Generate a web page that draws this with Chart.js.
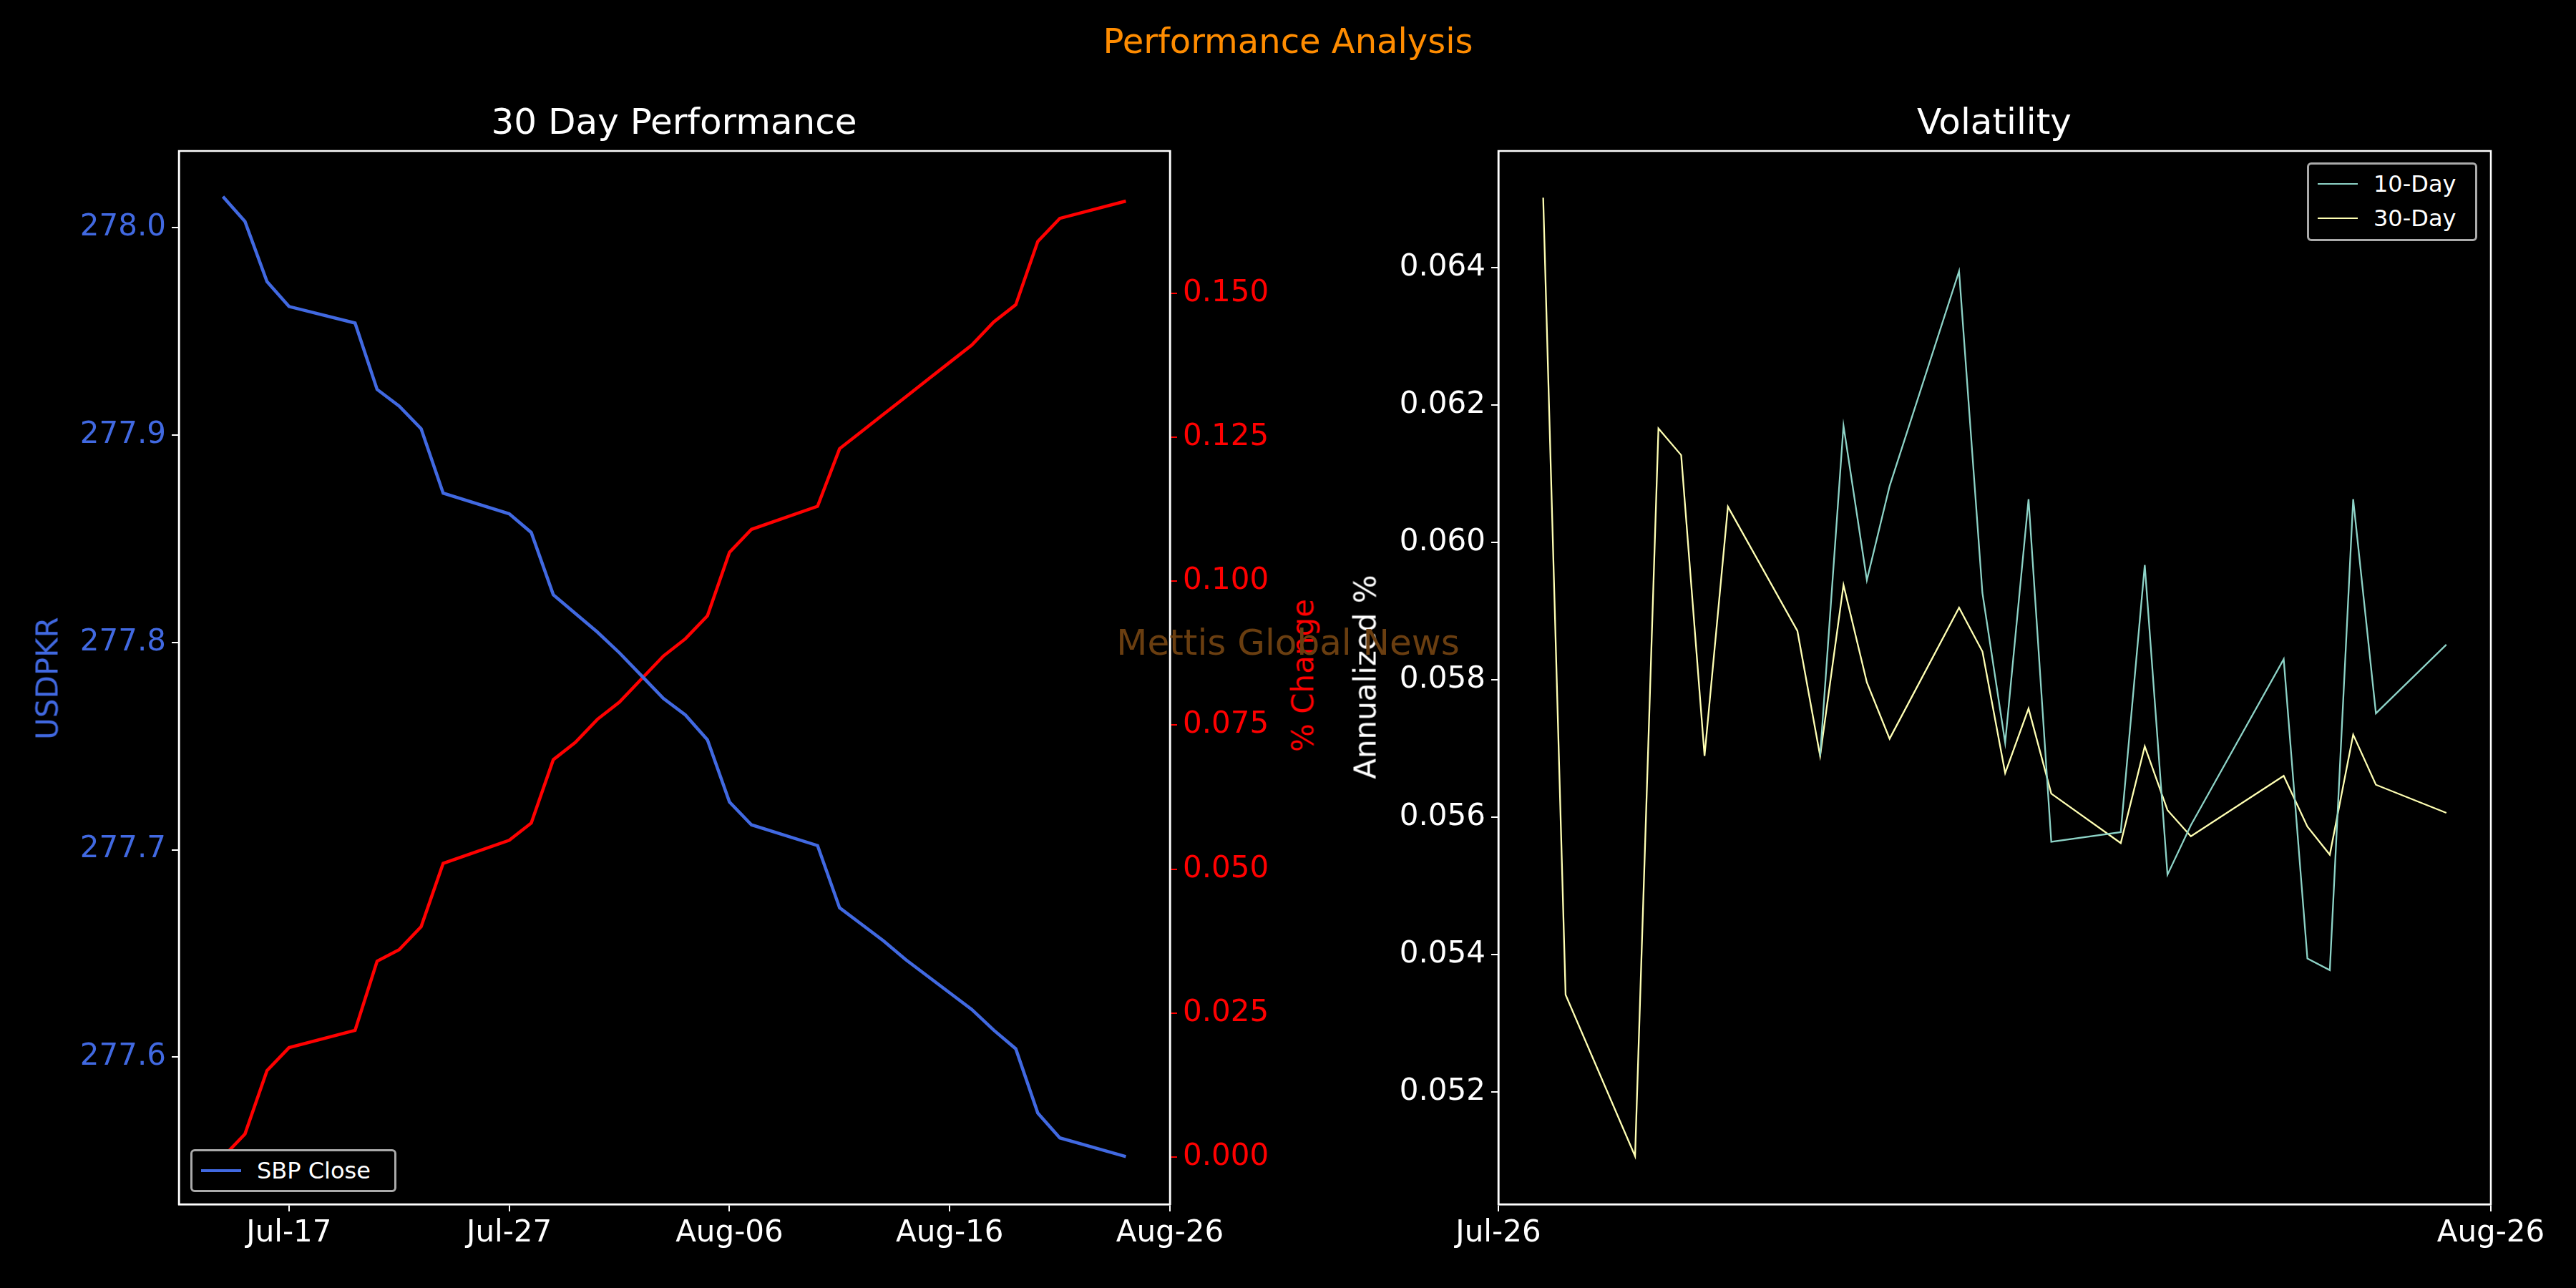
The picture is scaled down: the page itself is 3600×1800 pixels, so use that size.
<!DOCTYPE html>
<html>
<head>
<meta charset="utf-8">
<script src="https://cdn.jsdelivr.net/npm/chart.js@4.4.0/dist/chart.umd.min.js"></script>
<style>
  body { margin: 0; background: #000; width: 3600px; height: 1800px; overflow: hidden; font-family: "DejaVu Sans", sans-serif; }
  canvas { position: absolute; top: 0; }
  .txt { position: absolute; transform: translate(-50%, -50%); white-space: nowrap; }
  .rot { position: absolute; transform: translate(-50%, -50%) rotate(-90deg); white-space: nowrap; font-size: 42px; }
  .legend { position: absolute; border: 3px solid #aaa; border-radius: 6px; background: #000; color: #fff; font-size: 32px; padding: 3px 12px; box-sizing: border-box; }
  .legend div { display: flex; align-items: center; height: 48px; }
  .legend span.sw { display: inline-block; width: 56px; margin-right: 22px; }
</style>
</head>
<body>
<canvas id="perfChart" style="left:0" width="1800" height="1800"></canvas>
<canvas id="volChart" style="left:1800px" width="1800" height="1800"></canvas>

<div class="txt" style="left:1800px;top:57px;color:#ff8c00;font-size:48px">Performance Analysis</div>
<div class="txt" style="left:942px;top:170px;color:#fff;font-size:50px">30 Day Performance</div>
<div class="txt" style="left:2787px;top:170px;color:#fff;font-size:50px">Volatility</div>

<div class="rot" style="left:66px;top:948px;color:#4169e1">USDPKR</div>
<div class="rot" style="left:1821px;top:944px;color:#ff0000">% Change</div>
<div class="rot" style="left:1908px;top:946px;color:#fff">Annualized %</div>

<div class="legend" style="left:266px;top:1606px;width:288px;height:60px">
  <div><span class="sw" style="border-top:4px solid #4169e1"></span>SBP Close</div>
</div>
<div class="legend" style="left:3224px;top:227px;width:238px;height:110px">
  <div><span class="sw" style="border-top:2px solid #8dd3c7"></span>10-Day</div>
  <div><span class="sw" style="border-top:2px solid #ffffb3"></span>30-Day</div>
</div>

<div class="txt" style="left:1800px;top:898px;color:#6a3e10;font-size:50px">Mettis Global News</div>

<script>
// day numbers counted from Jul-00 (Jul-17 = 17, Aug-06 = 37)
const perfDays = [14, 15, 16, 17, 20, 21, 22, 23, 24, 27, 28, 29, 30, 31, 32, 33, 34, 35, 36, 37, 38, 41,
  42, 43, 44, 45, 46, 47, 48, 49, 50, 51, 52, 55];
const sbpClose = [278.015, 278.003, 277.974, 277.962, 277.954, 277.922, 277.914, 277.903, 277.872, 277.862,
  277.853, 277.823, 277.814, 277.805, 277.795, 277.784, 277.773, 277.765, 277.753, 277.723, 277.712, 277.702,
  277.672, 277.664, 277.656, 277.647, 277.639, 277.631, 277.623, 277.613, 277.604, 277.573, 277.561, 277.552];
const pctChange = [0.000, 0.004, 0.015, 0.019, 0.022, 0.034, 0.036, 0.040, 0.051, 0.055,
  0.058, 0.069, 0.072, 0.076, 0.079, 0.083, 0.087, 0.090, 0.094, 0.105, 0.109, 0.113,
  0.123, 0.126, 0.129, 0.132, 0.135, 0.138, 0.141, 0.145, 0.148, 0.159, 0.163, 0.166];
const perfTicks = [17, 27, 37, 47, 57];
const perfTickLabels = ['Jul-17', 'Jul-27', 'Aug-06', 'Aug-16', 'Aug-26'];

const volDays = [27.40, 28.10, 30.27, 31.00, 31.71, 32.44, 33.17, 35.34, 36.05, 36.78, 37.51, 38.22, 40.39,
  41.12, 41.83, 42.56, 43.27, 45.44, 46.19, 46.90, 47.63, 50.53, 51.27, 51.97, 52.70, 53.41, 55.61];
const vol30 = [0.06502, 0.05341, 0.05106, 0.06166, 0.06127, 0.05689, 0.06052, 0.05871, 0.05689, 0.05938,
  0.05796, 0.05714, 0.05905, 0.05841, 0.05664, 0.05758, 0.05634, 0.05562, 0.05703, 0.05610, 0.05572,
  0.05660, 0.05586, 0.05545, 0.05720, 0.05647, 0.05606];
const vol10 = [null, null, null, null, null, null, null, null, 0.05689, 0.06170, 0.05945, 0.06082, 0.06395,
  0.05926, 0.05708, 0.06063, 0.05564, 0.05578, 0.05967, 0.05516, 0.05588, 0.05830, 0.05394, 0.05377,
  0.06063, 0.05751, 0.05851];
const volTicks = [26, 57];
const volTickLabels = ['Jul-26', 'Aug-26'];

const FONT = { family: 'DejaVu Sans', size: 42 };

const frame = {
  id: 'frame',
  afterDraw(chart) {
    const { ctx, chartArea: a } = chart;
    ctx.save();
    ctx.strokeStyle = '#fff';
    ctx.lineWidth = 2.5;
    ctx.strokeRect(a.left, a.top, a.right - a.left, a.bottom - a.top);
    ctx.restore();
  }
};

function fixed(size) {
  return function(scale) {
    if (scale.isHorizontal()) scale.height = size; else scale.width = size;
  };
}

function xAxis(min, max, ticks, labels, h) {
  return {
    type: 'linear', min, max,
    afterBuildTicks: s => { s.ticks = ticks.map(v => ({ value: v })); },
    afterFit: fixed(h),
    grid: { display: true, drawOnChartArea: false, color: '#fff', tickLength: 10, lineWidth: 2 },
    border: { color: '#fff', width: 2.5 },
    ticks: { color: '#fff', font: FONT, maxRotation: 0, autoSkip: false, padding: 6,
      callback: v => labels[ticks.indexOf(v)] }
  };
}

const toXY = (xs, ys) => xs.map((x, i) => ({ x, y: ys[i] }));

new Chart(document.getElementById('perfChart'), {
  type: 'line',
  data: {
    datasets: [{
      label: 'SBP Close', data: toXY(perfDays, sbpClose), yAxisID: 'y',
      borderColor: '#4169e1', borderWidth: 4.5, pointRadius: 0, tension: 0
    }, {
      label: '% Change', data: toXY(perfDays, pctChange), yAxisID: 'y1',
      borderColor: '#ff0000', borderWidth: 4.5, pointRadius: 0, tension: 0
    }]
  },
  options: {
    responsive: false, animation: false,
    layout: { padding: { top: 211, left: 0, right: 0, bottom: 0 } },
    plugins: { legend: { display: false }, tooltip: { enabled: false } },
    scales: {
      x: xAxis(12, 57, perfTicks, perfTickLabels, 117),
      y: {
        position: 'left', min: 277.529, max: 278.037,
        afterFit: fixed(250),
        afterBuildTicks: s => { s.ticks = [277.6, 277.7, 277.8, 277.9, 278.0].map(v => ({ value: v })); },
        grid: { drawOnChartArea: false, color: '#fff', tickLength: 10, lineWidth: 2 },
        border: { color: '#fff', width: 2.5 },
        ticks: { color: '#4169e1', font: FONT, padding: 8, callback: v => v.toFixed(1) }
      },
      y1: {
        position: 'right', min: -0.0082, max: 0.1747,
        afterFit: fixed(165),
        afterBuildTicks: s => { s.ticks = [0, 0.025, 0.05, 0.075, 0.1, 0.125, 0.15].map(v => ({ value: v })); },
        grid: { drawOnChartArea: false, color: '#ff0000', tickLength: 10, lineWidth: 2 },
        border: { color: '#fff', width: 2.5 },
        ticks: { color: '#ff0000', font: FONT, padding: 8, callback: v => v.toFixed(3) }
      }
    }
  },
  plugins: [frame]
});

new Chart(document.getElementById('volChart'), {
  type: 'line',
  data: {
    datasets: [{
      label: '10-Day', data: toXY(volDays, vol10),
      borderColor: '#8dd3c7', borderWidth: 2.3, pointRadius: 0, tension: 0, spanGaps: false
    }, {
      label: '30-Day', data: toXY(volDays, vol30),
      borderColor: '#ffffb3', borderWidth: 2.3, pointRadius: 0, tension: 0
    }]
  },
  options: {
    responsive: false, animation: false,
    layout: { padding: { top: 211, left: 0, right: 119, bottom: 0 } },
    plugins: { legend: { display: false }, tooltip: { enabled: false } },
    scales: {
      x: xAxis(26, 57, volTicks, volTickLabels, 117),
      y: {
        min: 0.05036, max: 0.0657,
        afterFit: fixed(294),
        afterBuildTicks: s => { s.ticks = [0.052, 0.054, 0.056, 0.058, 0.060, 0.062, 0.064].map(v => ({ value: v })); },
        grid: { drawOnChartArea: false, color: '#fff', tickLength: 10, lineWidth: 2 },
        border: { color: '#fff', width: 2.5 },
        ticks: { color: '#fff', font: FONT, padding: 8, callback: v => v.toFixed(3) }
      }
    }
  },
  plugins: [frame]
});
</script>
</body>
</html>
